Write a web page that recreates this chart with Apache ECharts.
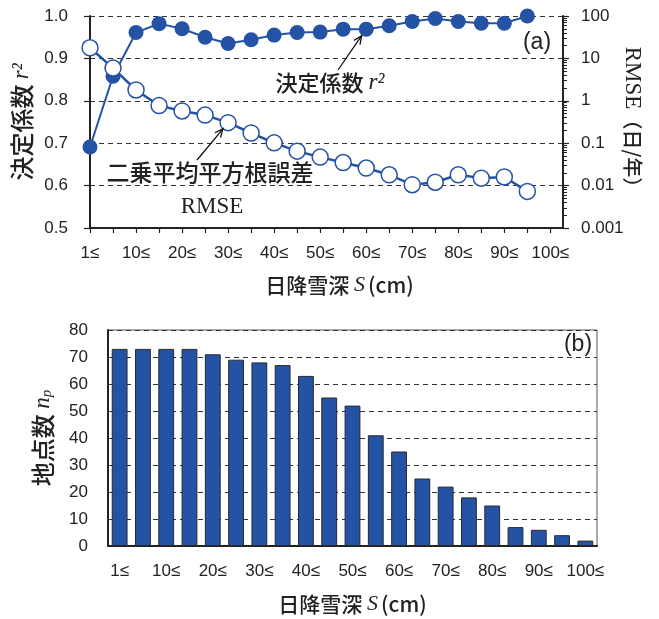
<!DOCTYPE html>
<html>
<head>
<meta charset="utf-8">
<script src="https://cdn.jsdelivr.net/npm/echarts@6/dist/echarts.min.js"></script>
<style>
  html, body { margin: 0; padding: 0; background: #ffffff; }
  #chart { width: 659px; height: 619px; }
</style>
</head>
<body>
<div id="chart"></div>
<script>
// Daily snowfall depth classes (lower bound, cm)
const depthLabels = ['1≤', '5≤', '10≤', '15≤', '20≤', '25≤', '30≤', '35≤', '40≤', '45≤',
  '50≤', '55≤', '60≤', '65≤', '70≤', '75≤', '80≤', '85≤', '90≤', '95≤', '100≤'];

// (a) coefficient of determination r^2 per class
const r2Values = [0.691, 0.858, 0.961, 0.982, 0.970, 0.950, 0.935, 0.944, 0.955, 0.961,
  0.962, 0.969, 0.969, 0.977, 0.987, 0.994, 0.987, 0.983, 0.983, 1.000];

// (a) RMSE (days/year) per class
const rmseValues = [17.8, 5.9, 1.8, 0.77, 0.575, 0.46, 0.305, 0.174, 0.102, 0.065,
  0.047, 0.035, 0.026, 0.018, 0.0105, 0.012, 0.018, 0.015, 0.016, 0.0073];

// (b) number of stations per class
const stationCounts = [73, 73, 73, 73, 71, 69, 68, 67, 63, 55, 52, 41, 35, 25, 22, 18, 15, 7, 6, 4, 2];

// Axis ticks
const r2Ticks = [0.5, 0.6, 0.7, 0.8, 0.9, 1.0];
const rmseTicks = [0.001, 0.01, 0.1, 1, 10, 100];
const countTicks = [0, 10, 20, 30, 40, 50, 60, 70, 80];

const NUM_FONT = '"Liberation Sans", Arial, sans-serif';
const JP_FONT = '"Noto Sans CJK JP", sans-serif';
const SERIF = '"Liberation Serif", "Times New Roman", serif';
const BLUE = '#2452a4';
const INK = '#222222';

// minor log ticks (2..9 of each decade), expressed as log10 positions
const minorTickLogs = [];
for (let k = Math.log10(rmseTicks[0]); k < Math.log10(rmseTicks[rmseTicks.length - 1]); k++) {
  for (let m = 2; m <= 9; m++) minorTickLogs.push(k + Math.log10(m));
}

const classIndex = depthLabels.map((_, i) => i);

const numLabel = { fontSize: 17, color: INK, fontFamily: NUM_FONT };
const dashed = { show: true, lineStyle: { color: '#333', width: 1.2, type: [5, 4] } };
const solidAxis = { show: true, onZero: false, lineStyle: { color: INK, width: 2 } };

const depthName = '{j|日降雪深 }{s|S}{j|(cm)}';
const depthRich = {
  j: { fontFamily: JP_FONT, fontSize: 21, fontWeight: 500, color: INK },
  s: { fontFamily: SERIF, fontStyle: 'italic', fontSize: 22, color: INK, padding: [0, 3, 0, 0] }
};

const chart = echarts.init(document.getElementById('chart'), null, { renderer: 'canvas' });

chart.setOption({
  animation: false,
  grid: [
    { left: 90, right: 96, top: 16, height: 212, outerBoundsMode: 'none' },
    { left: 108, right: 62, top: 330, height: 216, outerBoundsMode: 'none',
      show: true, borderColor: '#555', borderWidth: 1 }
  ],
  xAxis: [
    {
      gridIndex: 0, type: 'value', min: 0, max: 20.55, interval: 1,
      axisLine: solidAxis,
      axisTick: { customValues: classIndex, length: 5, lineStyle: { color: INK, width: 1.2 } },
      axisLabel: Object.assign({
        customValues: classIndex.filter(i => i % 2 === 0),
        margin: 17,
        formatter: v => (Number.isInteger(v) && v % 2 === 0) ? depthLabels[v] : ''
      }, numLabel),
      splitLine: { show: false },
      name: depthName, nameLocation: 'middle', nameGap: 46,
      nameTextStyle: { rich: depthRich, padding: [0, 0, 0, 26] }
    },
    {
      gridIndex: 1, type: 'category', data: depthLabels, boundaryGap: true,
      axisLine: solidAxis,
      axisTick: { interval: 0, length: 5, lineStyle: { color: INK, width: 1.2 } },
      axisLabel: Object.assign({ interval: 1, margin: 17 }, numLabel),
      name: depthName, nameLocation: 'middle', nameGap: 47,
      nameTextStyle: { rich: depthRich }
    }
  ],
  yAxis: [
    {
      gridIndex: 0, type: 'value', position: 'left',
      min: r2Ticks[0], max: r2Ticks[r2Ticks.length - 1], interval: 0.1,
      axisLine: solidAxis,
      axisTick: { length: 6, lineStyle: { color: INK, width: 1.2 } },
      axisLabel: Object.assign({ margin: 22, formatter: v => v.toFixed(1) }, numLabel),
      splitLine: dashed,
      name: '{j|決定係数 }{r|r²}', nameLocation: 'middle', nameGap: 53,
      nameTextStyle: {
        rich: {
          j: { fontFamily: JP_FONT, fontSize: 24, fontWeight: 500, color: INK },
          r: { fontFamily: SERIF, fontStyle: 'italic', fontSize: 23, color: INK }
        }
      }
    },
    {
      gridIndex: 0, type: 'log', logBase: 10, position: 'right',
      min: rmseTicks[0], max: rmseTicks[rmseTicks.length - 1],
      axisLine: solidAxis,
      axisTick: { length: 6, lineStyle: { color: INK, width: 1.2 } },
      axisLabel: Object.assign({ margin: 18, formatter: v => String(Number(v.toPrecision(1))) }, numLabel),
      splitLine: { show: false },
      name: '{s|RMSE}{j|（日/年）}', nameLocation: 'middle', nameRotate: -90, nameGap: 58,
      nameMoveOverlap: false,
      nameTextStyle: {
        rich: {
          s: { fontFamily: SERIF, fontSize: 23, color: INK },
          j: { fontFamily: JP_FONT, fontSize: 20, fontWeight: 500, color: INK }
        }
      }
    },
    {
      // minor ticks for the log scale on the right
      gridIndex: 0, type: 'value', position: 'right',
      min: Math.log10(rmseTicks[0]), max: Math.log10(rmseTicks[rmseTicks.length - 1]),
      axisLine: { show: false, onZero: false },
      axisTick: { customValues: minorTickLogs, length: 4, lineStyle: { color: INK, width: 1 } },
      axisLabel: { show: false },
      splitLine: { show: false }
    },
    {
      gridIndex: 1, type: 'value', position: 'left',
      min: countTicks[0], max: countTicks[countTicks.length - 1], interval: 10,
      axisLine: solidAxis,
      axisTick: { length: 5, lineStyle: { color: INK, width: 1.2 } },
      axisLabel: Object.assign({ margin: 20 }, numLabel),
      splitLine: dashed,
      name: '{j|地点数 }{n|n}{p|p}', nameLocation: 'middle', nameGap: 53,
      nameTextStyle: {
        rich: {
          j: { fontFamily: JP_FONT, fontSize: 24, fontWeight: 500, color: INK },
          n: { fontFamily: SERIF, fontStyle: 'italic', fontSize: 23, color: INK },
          p: { fontFamily: SERIF, fontStyle: 'italic', fontSize: 15, color: INK, verticalAlign: 'bottom' }
        }
      }
    }
  ],
  series: [
    {
      name: 'r2', type: 'line', xAxisIndex: 0, yAxisIndex: 0,
      data: r2Values.map((v, i) => [i, v]),
      symbol: 'circle', symbolSize: 15,
      lineStyle: { color: BLUE, width: 2 },
      itemStyle: { color: BLUE },
      z: 3
    },
    {
      name: 'RMSE', type: 'line', xAxisIndex: 0, yAxisIndex: 1,
      data: rmseValues.map((v, i) => [i, v]),
      symbol: 'circle', symbolSize: 16,
      lineStyle: { color: BLUE, width: 2.5 },
      itemStyle: { color: '#ffffff', borderColor: BLUE, borderWidth: 1.5 },
      z: 4
    },
    {
      name: 'stations', type: 'bar', xAxisIndex: 1, yAxisIndex: 3,
      data: stationCounts,
      barWidth: '68%',
      itemStyle: { color: BLUE, borderColor: '#2a2a2a', borderWidth: 1 }
    }
  ]
});

// Arrow from a text label to a data point (tip stops at the marker edge)
function arrow(tail, target, radius) {
  const dx = target[0] - tail[0], dy = target[1] - tail[1];
  const len = Math.hypot(dx, dy);
  const ux = dx / len, uy = dy / len;
  const tip = [target[0] - ux * radius, target[1] - uy * radius];
  const ang = Math.atan2(uy, ux);
  const head = 9, spread = 0.42;
  const p1 = [tip[0] - head * Math.cos(ang - spread), tip[1] - head * Math.sin(ang - spread)];
  const p2 = [tip[0] - head * Math.cos(ang + spread), tip[1] - head * Math.sin(ang + spread)];
  const st = { stroke: '#111', lineWidth: 1.3, fill: null };
  return [
    { type: 'line', shape: { x1: tail[0], y1: tail[1], x2: tip[0], y2: tip[1] }, style: st, z: 10 },
    { type: 'polyline', shape: { points: [p1, tip, p2] }, style: st, z: 10 }
  ];
}

const r2Target = chart.convertToPixel({ xAxisIndex: 0, yAxisIndex: 0 }, [12, r2Values[12]]);
const rmseTarget = chart.convertToPixel({ xAxisIndex: 0, yAxisIndex: 1 }, [6, rmseValues[6]]);

const texts = [
  {
    type: 'text', z: 10,
    style: {
      x: 330, y: 83, align: 'center', verticalAlign: 'middle',
      text: '{j|決定係数 }{r|r²}',
      rich: {
        j: { fontFamily: JP_FONT, fontSize: 22, fontWeight: 500, fill: INK },
        r: { fontFamily: SERIF, fontStyle: 'italic', fontSize: 23, fill: INK }
      }
    }
  },
  {
    type: 'text', z: 10,
    style: { x: 210, y: 172, align: 'center', verticalAlign: 'middle', text: '二乗平均平方根誤差',
      fontFamily: JP_FONT, fontSize: 23, fontWeight: 500, fill: INK }
  },
  {
    type: 'text', z: 10,
    style: { x: 212, y: 207, align: 'center', verticalAlign: 'middle', text: 'RMSE',
      fontFamily: SERIF, fontSize: 23, fill: INK }
  },
  {
    type: 'text', z: 10,
    style: { x: 537, y: 43, align: 'center', verticalAlign: 'middle', text: '(a)',
      fontFamily: NUM_FONT, fontSize: 23, fill: INK }
  },
  {
    type: 'text', z: 10,
    style: { x: 578, y: 345, align: 'center', verticalAlign: 'middle', text: '(b)',
      fontFamily: NUM_FONT, fontSize: 23, fill: INK }
  }
];

chart.setOption({
  graphic: texts
    .concat(arrow([338, 70], r2Target, 8))
    .concat(arrow([197, 160], rmseTarget, 8))
});
</script>
</body>
</html>
